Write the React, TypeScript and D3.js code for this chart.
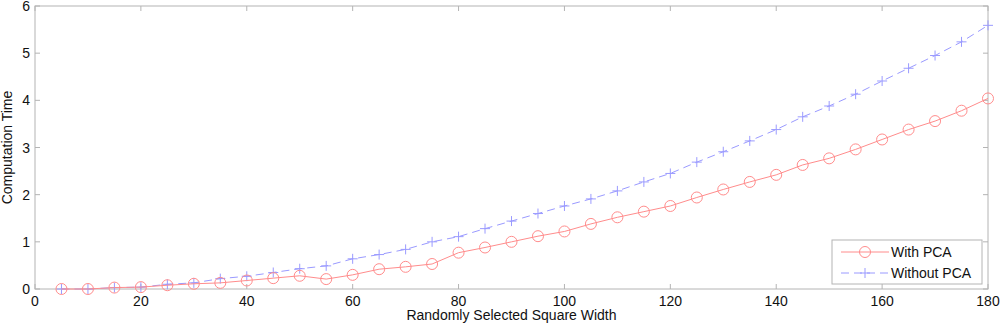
import React from 'react';
import * as d3 from 'd3';

// square width on the x axis
const widths: number[] = [
  5, 10, 15, 20, 25, 30, 35, 40, 45, 50, 55, 60, 65, 70, 75, 80, 85, 90,
  95, 100, 105, 110, 115, 120, 125, 130, 135, 140, 145, 150, 155, 160, 165,
  170, 175, 180,
];

const withPca: number[] = [
  0.0, 0.0, 0.03, 0.04, 0.08, 0.11, 0.13, 0.18, 0.23, 0.28, 0.21, 0.3, 0.42,
  0.47, 0.53, 0.77, 0.88, 1.0, 1.12, 1.22, 1.38, 1.52, 1.64, 1.76, 1.94, 2.11,
  2.27, 2.42, 2.63, 2.77, 2.96, 3.17, 3.38, 3.56, 3.78, 4.04,
];

const withoutPca: number[] = [
  0.0, 0.0, 0.03, 0.04, 0.1, 0.13, 0.22, 0.27, 0.35, 0.43, 0.49, 0.64, 0.73,
  0.84, 1.0, 1.11, 1.28, 1.44, 1.6, 1.76, 1.91, 2.08, 2.27, 2.45, 2.69, 2.91,
  3.14, 3.38, 3.65, 3.88, 4.13, 4.41, 4.68, 4.95, 5.24, 5.59,
];

const xTicks = [0, 20, 40, 60, 80, 100, 120, 140, 160, 180];
const yTicks = [0, 1, 2, 3, 4, 5, 6];

const W = 1000;
const H = 328;
const left = 35;
const right = 988;
const top = 6;
const bottom = 289;

const red = '#ff8c8c';
const blue = '#9a9aff';
const axisGrey = '#b4b4b4';
const font = 'Arial, "Liberation Sans", sans-serif';

const App = () => {
  const x = d3.scaleLinear().domain([0, 180]).range([left, right]);
  const y = d3.scaleLinear().domain([0, 6]).range([bottom, top]);

  const line = d3
    .line<number>()
    .x((_, i) => x(widths[i]))
    .y((d) => y(d));

  const tk = 5;

  return (
    <svg
      width={W}
      height={H}
      style={{ position: 'absolute', left: 0, top: 0, background: '#fff' }}
      fontFamily={font}
    >
      {/* box */}
      <rect
        x={left}
        y={top}
        width={right - left}
        height={bottom - top}
        fill="none"
        stroke={axisGrey}
        strokeWidth={1}
      />
      {/* ticks, inside, on all sides */}
      {xTicks.map((t) => (
        <g key={'xt' + t}>
          <line x1={x(t)} x2={x(t)} y1={bottom} y2={bottom - tk} stroke={axisGrey} />
          <line x1={x(t)} x2={x(t)} y1={top} y2={top + tk} stroke={axisGrey} />
          <text
            x={x(t)}
            y={bottom + 17}
            textAnchor="middle"
            fontSize={14}
            fill="#111"
          >
            {t}
          </text>
        </g>
      ))}
      {yTicks.map((t) => (
        <g key={'yt' + t}>
          <line x1={left} x2={left + tk} y1={y(t)} y2={y(t)} stroke={axisGrey} />
          <line x1={right} x2={right - tk} y1={y(t)} y2={y(t)} stroke={axisGrey} />
          <text
            x={left - 5}
            y={y(t) + 5}
            textAnchor="end"
            fontSize={14}
            fill="#111"
          >
            {t}
          </text>
        </g>
      ))}

      {/* series */}
      <path d={line(withoutPca) ?? ''} fill="none" stroke={blue} strokeWidth={1} strokeDasharray="8,5" />
      {withoutPca.map((v, i) => (
        <path
          key={'b' + i}
          d={`M${x(widths[i]) - 5},${y(v)}h10M${x(widths[i])},${y(v) - 5}v10`}
          stroke={blue}
          strokeWidth={1}
        />
      ))}
      <path d={line(withPca) ?? ''} fill="none" stroke={red} strokeWidth={1} />
      {withPca.map((v, i) => (
        <circle key={'r' + i} cx={x(widths[i])} cy={y(v)} r={5.5} fill="none" stroke={red} strokeWidth={1} />
      ))}

      {/* labels */}
      <text x={(left + right) / 2} y={320} textAnchor="middle" fontSize={14} fill="#111">
        Randomly Selected Square Width
      </text>
      <text
        transform={`translate(12,${(top + bottom) / 2}) rotate(-90)`}
        textAnchor="middle"
        fontSize={14}
        fill="#111"
      >
        Computation Time
      </text>

      {/* legend */}
      <g>
        <rect x={832} y={240} width={150} height={44} fill="#fff" stroke={axisGrey} />
        <line x1={841} x2={889} y1={252} y2={252} stroke={red} />
        <circle cx={865} cy={252} r={5.5} fill="none" stroke={red} />
        <text x={891} y={257} fontSize={14} fill="#111">
          With PCA
        </text>
        <line x1={841} x2={889} y1={273} y2={273} stroke={blue} strokeDasharray="8,5" />
        <path d="M860,273h10M865,268v10" stroke={blue} />
        <text x={891} y={278} fontSize={14} fill="#111">
          Without PCA
        </text>
      </g>
    </svg>
  );
};

export default App;
